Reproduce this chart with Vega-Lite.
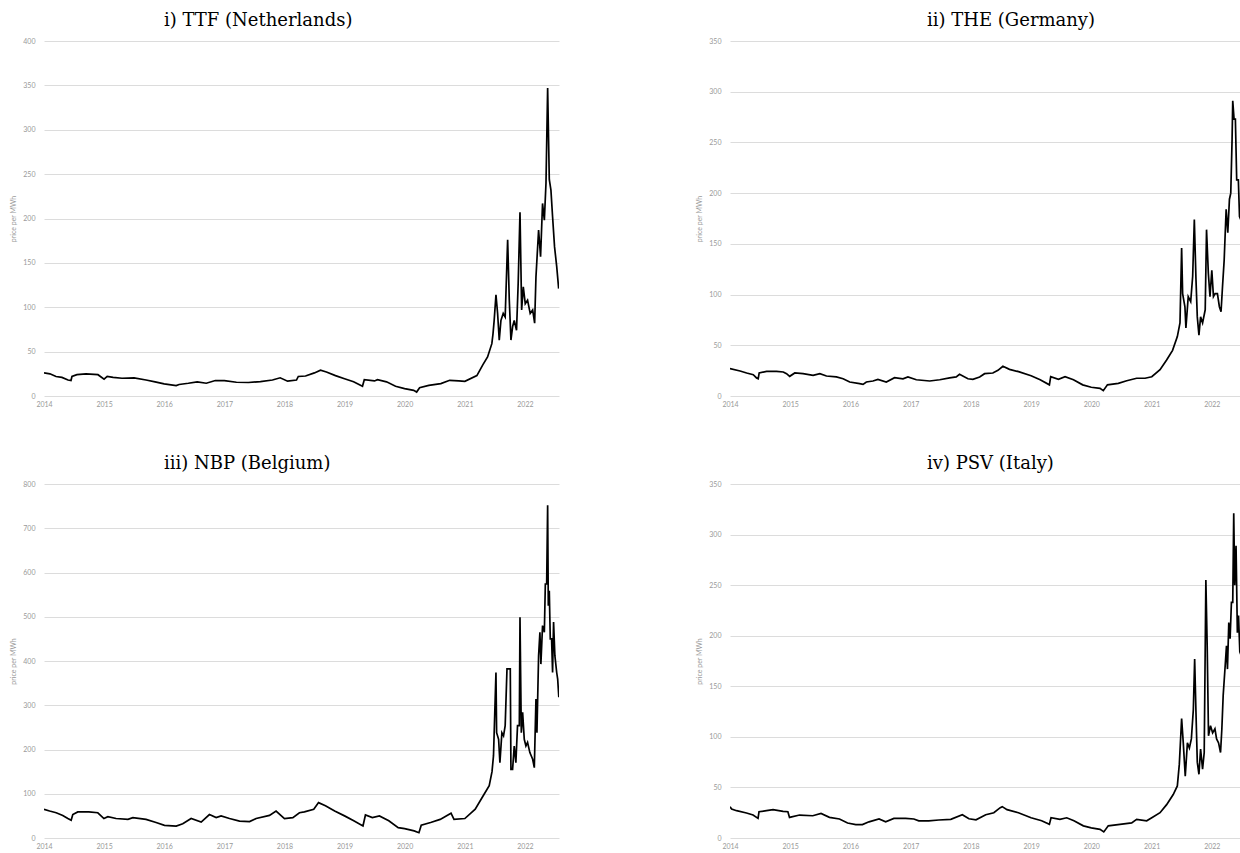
{
  "$schema": "https://vega.github.io/schema/vega-lite/v6.json",
  "background": "white",
  "padding": {"left": 9, "top": 12, "right": 0, "bottom": 0},
  "config": {
    "view": {"stroke": null},
    "axis": {"domain": false, "ticks": false, "labelColor": "#999999", "labelFontSize": 7, "labelFont": "Lato", "titleColor": "#999999", "titleFontSize": 7, "titleFontWeight": "normal", "titleFont": "Lato", "gridColor": "#dcdcdc", "gridWidth": 1},
    "axisY": {"labelPadding": 9, "titlePadding": 6},
    "axisX": {"labelPadding": 4, "grid": false, "format": "%Y", "tickCount": {"interval": "year", "step": 1}, "title": null, "labelFlush": false},
    "title": {"font": "DejaVu Serif", "fontSize": 18, "fontWeight": "normal", "color": "#000000", "anchor": "start", "frame": "group", "offset": 7}
  },
  "datasets": {
    "ttf": [
      {"d":"2014-01-01","v":26},{"d":"2014-02-06","v":25},{"d":"2014-03-15","v":22},{"d":"2014-04-20","v":21},{"d":"2014-05-27","v":18},{"d":"2014-06-14","v":17.4},{"d":"2014-06-20","v":22},{"d":"2014-07-20","v":24},{"d":"2014-09-13","v":25},{"d":"2014-11-25","v":24},
      {"d":"2015-01-01","v":19},{"d":"2015-01-20","v":22},{"d":"2015-02-25","v":21},{"d":"2015-04-20","v":20},{"d":"2015-07-02","v":20.5},{"d":"2015-09-13","v":18},{"d":"2015-11-07","v":16},
      {"d":"2016-01-01","v":13.6},{"d":"2016-03-14","v":11.7},{"d":"2016-04-01","v":13},{"d":"2016-05-27","v":14.4},{"d":"2016-07-20","v":16},{"d":"2016-09-13","v":14.4},{"d":"2016-11-07","v":17.4},
      {"d":"2017-01-01","v":17.4},{"d":"2017-03-15","v":15.5},{"d":"2017-05-27","v":15.2},{"d":"2017-08-08","v":16.3},{"d":"2017-10-20","v":18},{"d":"2017-12-06","v":20.5},
      {"d":"2018-01-20","v":16.7},{"d":"2018-03-15","v":18},{"d":"2018-03-26","v":22},{"d":"2018-05-09","v":22.5},{"d":"2018-07-02","v":26},{"d":"2018-08-08","v":29},{"d":"2018-09-13","v":27},{"d":"2018-11-07","v":23},
      {"d":"2019-01-01","v":19.5},{"d":"2019-02-25","v":16},{"d":"2019-04-20","v":11},{"d":"2019-05-01","v":18.4},{"d":"2019-07-02","v":17},{"d":"2019-07-20","v":18.4},{"d":"2019-09-13","v":16},{"d":"2019-11-07","v":11},
      {"d":"2020-01-01","v":8.3},{"d":"2020-02-25","v":6.4},{"d":"2020-03-14","v":4.5},{"d":"2020-04-01","v":9.4},{"d":"2020-05-27","v":12},{"d":"2020-08-08","v":14},{"d":"2020-10-01","v":17.7},{"d":"2020-11-25","v":17},
      {"d":"2021-01-01","v":16.5},{"d":"2021-03-15","v":23},{"d":"2021-04-20","v":35},{"d":"2021-05-19","v":44},{"d":"2021-06-14","v":59},{"d":"2021-06-21","v":70},{"d":"2021-06-28","v":85},{"d":"2021-07-09","v":114},{"d":"2021-07-19","v":93},{"d":"2021-07-29","v":63},{"d":"2021-08-08","v":85},{"d":"2021-08-22","v":93},{"d":"2021-09-03","v":89},{"d":"2021-09-18","v":176},{"d":"2021-09-28","v":108},{"d":"2021-10-08","v":63},{"d":"2021-10-18","v":78},{"d":"2021-10-28","v":85},{"d":"2021-11-11","v":74},{"d":"2021-11-21","v":127},{"d":"2021-12-02","v":207},{"d":"2021-12-12","v":97},{"d":"2021-12-22","v":123},
      {"d":"2022-01-03","v":104},{"d":"2022-01-17","v":108},{"d":"2022-02-02","v":93},{"d":"2022-02-17","v":97},{"d":"2022-03-01","v":82},{"d":"2022-03-09","v":134},{"d":"2022-03-25","v":187},{"d":"2022-04-06","v":157},{"d":"2022-04-18","v":217},{"d":"2022-04-29","v":198},{"d":"2022-05-09","v":240},{"d":"2022-05-19","v":347},{"d":"2022-05-29","v":244},{"d":"2022-06-08","v":232},{"d":"2022-06-18","v":202},{"d":"2022-06-30","v":168},{"d":"2022-07-13","v":146},{"d":"2022-07-25","v":121}
    ],
    "the": [
      {"d":"2014-01-01","v":27},{"d":"2014-03-03","v":24.7},{"d":"2014-04-12","v":22.7},{"d":"2014-05-22","v":21},{"d":"2014-06-11","v":17.8},{"d":"2014-06-21","v":17},{"d":"2014-06-27","v":22.7},{"d":"2014-08-11","v":24.3},{"d":"2014-10-10","v":24.3},{"d":"2014-11-20","v":23.7},{"d":"2014-12-10","v":22},{"d":"2014-12-29","v":19.4},
      {"d":"2015-01-29","v":22.7},{"d":"2015-03-20","v":22},{"d":"2015-05-20","v":20.4},{"d":"2015-06-30","v":22},{"d":"2015-08-09","v":19.7},{"d":"2015-10-08","v":18.8},{"d":"2015-11-18","v":17},{"d":"2015-12-28","v":13.8},
      {"d":"2016-02-26","v":12.2},{"d":"2016-03-18","v":11.5},{"d":"2016-04-07","v":13.8},{"d":"2016-05-17","v":14.8},{"d":"2016-06-16","v":16.4},{"d":"2016-08-06","v":13.8},{"d":"2016-09-25","v":18},{"d":"2016-11-15","v":17},{"d":"2016-12-15","v":18.8},
      {"d":"2017-02-04","v":16},{"d":"2017-04-26","v":14.8},{"d":"2017-06-26","v":16},{"d":"2017-08-25","v":17.8},{"d":"2017-10-04","v":18.8},{"d":"2017-10-24","v":21.4},{"d":"2017-12-14","v":17},
      {"d":"2018-01-13","v":16.4},{"d":"2018-02-23","v":18.8},{"d":"2018-03-25","v":22},{"d":"2018-05-14","v":22.7},{"d":"2018-06-14","v":25.3},{"d":"2018-07-14","v":29.3},{"d":"2018-08-23","v":26.3},{"d":"2018-10-17","v":24},
      {"d":"2019-01-01","v":20},{"d":"2019-02-25","v":16},{"d":"2019-04-22","v":11},{"d":"2019-04-30","v":19},{"d":"2019-06-16","v":16.5},{"d":"2019-07-26","v":19},{"d":"2019-09-15","v":16},{"d":"2019-11-10","v":11},
      {"d":"2020-01-01","v":8.6},{"d":"2020-02-23","v":7.6},{"d":"2020-03-14","v":5.3},{"d":"2020-04-08","v":11},{"d":"2020-06-13","v":12.5},{"d":"2020-08-03","v":15},{"d":"2020-10-02","v":17.5},{"d":"2020-11-22","v":17.5},
      {"d":"2021-01-02","v":19},{"d":"2021-02-21","v":26},{"d":"2021-04-02","v":35.5},{"d":"2021-05-08","v":45},{"d":"2021-06-06","v":58.6},{"d":"2021-06-22","v":72},{"d":"2021-07-02","v":146},{"d":"2021-07-08","v":101},{"d":"2021-07-22","v":88},{"d":"2021-07-28","v":67},{"d":"2021-08-11","v":98},{"d":"2021-08-26","v":93},{"d":"2021-09-07","v":118},{"d":"2021-09-17","v":174},{"d":"2021-09-27","v":115},{"d":"2021-10-05","v":78},{"d":"2021-10-15","v":60},{"d":"2021-10-25","v":78},{"d":"2021-11-06","v":72},{"d":"2021-11-22","v":85},{"d":"2021-11-30","v":164},{"d":"2021-12-11","v":121},{"d":"2021-12-21","v":98},
      {"d":"2022-01-01","v":124},{"d":"2022-01-11","v":98},{"d":"2022-01-21","v":101},{"d":"2022-02-04","v":101},{"d":"2022-02-16","v":88},{"d":"2022-02-26","v":83},{"d":"2022-03-07","v":108},{"d":"2022-03-17","v":134},{"d":"2022-03-29","v":184},{"d":"2022-04-08","v":161},{"d":"2022-04-18","v":194},{"d":"2022-04-26","v":200},{"d":"2022-05-04","v":253},{"d":"2022-05-08","v":291},{"d":"2022-05-16","v":273},{"d":"2022-05-24","v":273},{"d":"2022-06-01","v":213},{"d":"2022-06-11","v":213},{"d":"2022-06-18","v":177},{"d":"2022-07-10","v":168},{"d":"2022-07-25","v":150}
    ],
    "nbp": [
      {"d":"2014-01-01","v":65},{"d":"2014-02-04","v":61},{"d":"2014-03-16","v":57},{"d":"2014-04-25","v":51},{"d":"2014-05-26","v":44},{"d":"2014-06-15","v":40},{"d":"2014-06-25","v":53},{"d":"2014-07-25","v":59},{"d":"2014-09-30","v":59},{"d":"2014-11-24","v":57},{"d":"2014-12-31","v":44},
      {"d":"2015-01-24","v":48},{"d":"2015-03-15","v":44},{"d":"2015-05-26","v":42},{"d":"2015-06-25","v":46},{"d":"2015-09-13","v":42},{"d":"2015-11-13","v":35},
      {"d":"2016-01-03","v":28.6},{"d":"2016-03-14","v":27},{"d":"2016-04-23","v":32},{"d":"2016-06-13","v":44},{"d":"2016-08-13","v":36},{"d":"2016-10-02","v":53},{"d":"2016-11-12","v":46},{"d":"2016-12-12","v":50},
      {"d":"2017-02-01","v":44},{"d":"2017-04-03","v":38},{"d":"2017-06-03","v":37},{"d":"2017-07-13","v":44},{"d":"2017-10-02","v":51},{"d":"2017-11-11","v":61},
      {"d":"2018-01-01","v":44},{"d":"2018-02-21","v":46},{"d":"2018-04-02","v":57},{"d":"2018-05-02","v":59},{"d":"2018-06-28","v":65},{"d":"2018-07-27","v":80},{"d":"2018-09-07","v":73},{"d":"2018-11-02","v":61},
      {"d":"2019-01-01","v":50},{"d":"2019-02-26","v":39},{"d":"2019-04-23","v":27},{"d":"2019-05-08","v":52},{"d":"2019-06-19","v":46},{"d":"2019-08-01","v":50},{"d":"2019-09-27","v":39},{"d":"2019-11-23","v":23.5},
      {"d":"2020-01-01","v":21},{"d":"2020-02-28","v":16},{"d":"2020-03-28","v":12},{"d":"2020-04-11","v":29},{"d":"2020-06-07","v":35},{"d":"2020-08-04","v":42},{"d":"2020-10-09","v":56},{"d":"2020-10-27","v":42},
      {"d":"2021-01-01","v":44},{"d":"2021-03-05","v":65},{"d":"2021-04-17","v":92},{"d":"2021-05-29","v":118},{"d":"2021-06-15","v":150},{"d":"2021-06-24","v":186},{"d":"2021-07-09","v":374},{"d":"2021-07-13","v":238},{"d":"2021-07-25","v":223},{"d":"2021-08-02","v":170},{"d":"2021-08-14","v":238},{"d":"2021-08-24","v":231},{"d":"2021-09-03","v":254},{"d":"2021-09-14","v":382},{"d":"2021-10-04","v":382},{"d":"2021-10-08","v":155},{"d":"2021-10-18","v":155},{"d":"2021-10-28","v":208},{"d":"2021-11-07","v":170},{"d":"2021-11-17","v":254},{"d":"2021-11-28","v":254},{"d":"2021-12-02","v":499},{"d":"2021-12-10","v":238},{"d":"2021-12-18","v":284},{"d":"2021-12-28","v":223},
      {"d":"2022-01-07","v":208},{"d":"2022-01-17","v":216},{"d":"2022-01-31","v":193},{"d":"2022-02-17","v":178},{"d":"2022-02-27","v":159},{"d":"2022-03-09","v":314},{"d":"2022-03-15","v":238},{"d":"2022-03-25","v":412},{"d":"2022-04-02","v":465},{"d":"2022-04-08","v":393},{"d":"2022-04-18","v":480},{"d":"2022-04-29","v":465},{"d":"2022-05-05","v":574},{"d":"2022-05-13","v":574},{"d":"2022-05-19","v":752},{"d":"2022-05-23","v":525},{"d":"2022-05-29","v":559},{"d":"2022-06-04","v":450},{"d":"2022-06-12","v":450},{"d":"2022-06-18","v":374},{"d":"2022-06-24","v":488},{"d":"2022-07-02","v":412},{"d":"2022-07-13","v":374},{"d":"2022-07-19","v":359},{"d":"2022-07-26","v":318}
    ],
    "psv": [
      {"d":"2014-01-01","v":31},{"d":"2014-01-11","v":28.6},{"d":"2014-02-10","v":27},{"d":"2014-04-11","v":24.7},{"d":"2014-05-21","v":22.7},{"d":"2014-06-20","v":19.4},{"d":"2014-06-26","v":26},{"d":"2014-08-10","v":27},{"d":"2014-09-19","v":28},{"d":"2014-11-19","v":26.3},{"d":"2014-12-18","v":26},{"d":"2014-12-28","v":20.4},
      {"d":"2015-02-27","v":22.7},{"d":"2015-05-18","v":22},{"d":"2015-07-07","v":24.3},{"d":"2015-08-27","v":20.4},{"d":"2015-10-27","v":18.8},{"d":"2015-12-15","v":14.8},
      {"d":"2016-02-03","v":13.2},{"d":"2016-03-14","v":13.2},{"d":"2016-04-23","v":16},{"d":"2016-06-23","v":18.8},{"d":"2016-08-02","v":16},{"d":"2016-09-21","v":19.4},{"d":"2016-12-01","v":19.4},
      {"d":"2017-01-20","v":18.8},{"d":"2017-02-19","v":17},{"d":"2017-04-20","v":17},{"d":"2017-06-20","v":17.8},{"d":"2017-09-01","v":18.5},{"d":"2017-11-10","v":23},{"d":"2017-12-20","v":19},
      {"d":"2018-02-01","v":18},{"d":"2018-04-01","v":23},{"d":"2018-05-20","v":25},{"d":"2018-06-28","v":30},{"d":"2018-07-10","v":31},{"d":"2018-08-08","v":28},{"d":"2018-10-16","v":25},
      {"d":"2019-01-01","v":20},{"d":"2019-03-06","v":17},{"d":"2019-04-22","v":13.5},{"d":"2019-05-02","v":20},{"d":"2019-06-25","v":18.5},{"d":"2019-08-05","v":20},{"d":"2019-09-18","v":17},{"d":"2019-11-14","v":12},
      {"d":"2020-01-01","v":10},{"d":"2020-02-23","v":8.6},{"d":"2020-03-17","v":6},{"d":"2020-04-13","v":12},{"d":"2020-06-23","v":13.5},{"d":"2020-09-02","v":15},{"d":"2020-10-02","v":18.5},{"d":"2020-12-02","v":17},
      {"d":"2021-01-02","v":20},{"d":"2021-02-21","v":25},{"d":"2021-04-02","v":33},{"d":"2021-05-12","v":43},{"d":"2021-06-06","v":51.5},{"d":"2021-06-18","v":73},{"d":"2021-07-02","v":118},{"d":"2021-07-12","v":94},{"d":"2021-07-24","v":61},{"d":"2021-08-06","v":94},{"d":"2021-08-18","v":89},{"d":"2021-08-30","v":98},{"d":"2021-09-11","v":127},{"d":"2021-09-19","v":177},{"d":"2021-09-27","v":124},{"d":"2021-10-05","v":75},{"d":"2021-10-15","v":63},{"d":"2021-10-25","v":88},{"d":"2021-11-06","v":68},{"d":"2021-11-16","v":84.5},{"d":"2021-11-26","v":255},{"d":"2021-12-04","v":190},{"d":"2021-12-12","v":101},{"d":"2021-12-24","v":111},
      {"d":"2022-01-06","v":104},{"d":"2022-01-20","v":108},{"d":"2022-01-30","v":98},{"d":"2022-02-11","v":94},{"d":"2022-02-23","v":84.5},{"d":"2022-03-03","v":108},{"d":"2022-03-11","v":141},{"d":"2022-03-23","v":170},{"d":"2022-03-31","v":190},{"d":"2022-04-06","v":167},{"d":"2022-04-14","v":213},{"d":"2022-04-22","v":197},{"d":"2022-04-30","v":233},{"d":"2022-05-08","v":233},{"d":"2022-05-14","v":321},{"d":"2022-05-20","v":250},{"d":"2022-05-28","v":289},{"d":"2022-06-05","v":203},{"d":"2022-06-12","v":220},{"d":"2022-06-20","v":184},{"d":"2022-07-10","v":175}
    ]
  },
  "columns": 2,
  "spacing": {"row": 48, "column": 136},
  "concat": [
    {
      "title": {"text": "i) TTF (Netherlands)", "dx": 120},
      "width": 515, "height": 355,
      "data": {"name": "ttf"},
      "mark": {"type": "line", "color": "#000000", "strokeWidth": 1.7, "clip": true},
      "encoding": {
        "x": {"field": "d", "type": "temporal", "scale": {"domain": [{"year": 2014, "month": 1, "date": 1}, {"year": 2022, "month": 7, "date": 27}]}},
        "y": {"field": "v", "type": "quantitative", "scale": {"domain": [0, 400], "nice": false}, "axis": {"values": [0, 50, 100, 150, 200, 250, 300, 350, 400], "title": "price per MWh"}}
      }
    },
    {
      "title": {"text": "ii) THE (Germany)", "dx": 197},
      "width": 510, "height": 355,
      "data": {"name": "the"},
      "mark": {"type": "line", "color": "#000000", "strokeWidth": 1.7, "clip": true},
      "encoding": {
        "x": {"field": "d", "type": "temporal", "scale": {"domain": [{"year": 2014, "month": 1, "date": 1}, {"year": 2022, "month": 6, "date": 21}]}},
        "y": {"field": "v", "type": "quantitative", "scale": {"domain": [0, 350], "nice": false}, "axis": {"values": [0, 50, 100, 150, 200, 250, 300, 350], "title": "price per MWh"}}
      }
    },
    {
      "title": {"text": "iii) NBP (Belgium)", "dx": 120},
      "width": 515, "height": 354,
      "data": {"name": "nbp"},
      "mark": {"type": "line", "color": "#000000", "strokeWidth": 1.7, "clip": true},
      "encoding": {
        "x": {"field": "d", "type": "temporal", "scale": {"domain": [{"year": 2014, "month": 1, "date": 1}, {"year": 2022, "month": 7, "date": 27}]}},
        "y": {"field": "v", "type": "quantitative", "scale": {"domain": [0, 800], "nice": false}, "axis": {"values": [0, 100, 200, 300, 400, 500, 600, 700, 800], "title": "price per MWh"}}
      }
    },
    {
      "title": {"text": "iv) PSV (Italy)", "dx": 197},
      "width": 510, "height": 354,
      "data": {"name": "psv"},
      "mark": {"type": "line", "color": "#000000", "strokeWidth": 1.7, "clip": true},
      "encoding": {
        "x": {"field": "d", "type": "temporal", "scale": {"domain": [{"year": 2014, "month": 1, "date": 1}, {"year": 2022, "month": 6, "date": 21}]}},
        "y": {"field": "v", "type": "quantitative", "scale": {"domain": [0, 350], "nice": false}, "axis": {"values": [0, 50, 100, 150, 200, 250, 300, 350], "title": "price per MWh"}}
      }
    }
  ]
}
